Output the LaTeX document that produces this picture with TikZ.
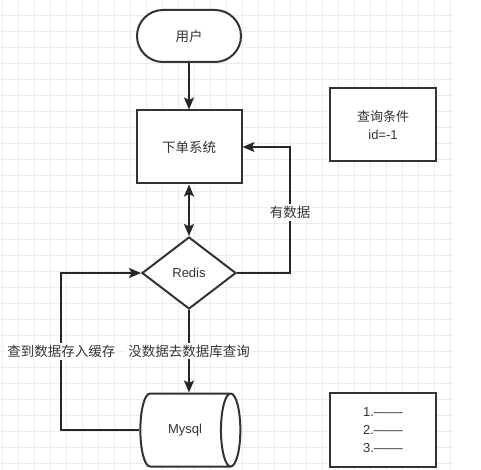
\documentclass[tikz,border=0pt]{standalone}
\usepackage{fontspec}
\setmainfont{Liberation Sans}
\newfontfamily\cjk{Noto Sans CJK SC}
\usetikzlibrary{shapes.geometric,arrows.meta}
\tikzset{
  box/.style={draw=black!80,line width=2pt,fill=white,text=black!80,minimum width=105pt,minimum height=73pt,inner sep=0pt,font=\fontsize{13}{18}\selectfont},
  terminal/.style={box,rounded corners=26pt,minimum width=104pt,minimum height=52pt},
  decision/.style={box,diamond,minimum width=94pt,minimum height=72pt},
  dbase/.style={box,cylinder,shape aspect=1.6,minimum width=73pt,minimum height=100pt},
  lbl/.style={fill=white,text=black!80,inner sep=2pt,font=\cjk\fontsize{13.5}{16}\selectfont},
  flow/.style={draw=black!85,line width=2pt,-{Stealth[length=12pt,width=10pt,inset=2.5pt]}},
}
\begin{document}
\begin{tikzpicture}[x=1pt,y=-1pt]
    \useasboundingbox (0,0) rectangle (481,470);
    \fill[white] (0,0) rectangle (481,470);
    % grid
    \foreach \gx in {2,18,...,450} \draw[black!8,line width=0.8pt] (\gx,0) -- (\gx,470);
    \foreach \gy in {15,31,...,470} \draw[black!8,line width=0.8pt] (0,\gy) -- (453,\gy);
    % nodes
    \node[terminal,font=\cjk\fontsize{13.5}{18}\selectfont] (user) at (189,36) {用户};
    \node[box,font=\cjk\fontsize{13.5}{18}\selectfont] (order) at (189,147) {下单系统};
    \node[decision] (redis) at (189,273) {Redis};
    \node[dbase] (mysql) at (185,430) {Mysql};
    \node[box,minimum width=106pt,align=center] (cond) at (383,125) {{\cjk 查询条件}\\id=-1};
    \node[box,minimum width=106pt,minimum height=74pt,align=left] (list) at (383,430)
      {1.\textendash\textendash\textendash\textendash\\2.\textendash\textendash\textendash\textendash\\3.\textendash\textendash\textendash\textendash};
    % connectors
    \draw[flow] (user) -- (order);
    \draw[flow,{Stealth[length=12pt,width=10pt,inset=2.5pt]}-{Stealth[length=12pt,width=10pt,inset=2.5pt]}] (order) -- (redis);
    \draw[flow] (redis.east) -- ++(53,0) |- node[pos=0.24,lbl]{有数据} (order.east);
    \draw[flow] (redis.south) -- node[lbl]{没数据去数据库查询} (redis.south |- mysql.north);
    \draw[flow] (mysql.west) -- ++(-78,0) |- node[pos=0.25,lbl]{查到数据存入缓存} (redis.west);
\end{tikzpicture}
\end{document}
